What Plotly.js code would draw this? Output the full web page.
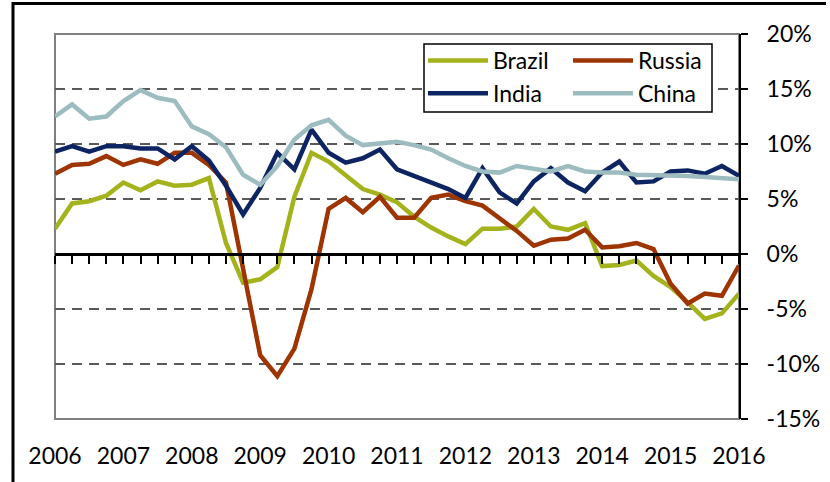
<!DOCTYPE html>
<html>
<head>
<meta charset="utf-8">
<script src="https://cdn.plot.ly/plotly-3.0.1.min.js"></script>
<style>
html,body{margin:0;padding:0;background:#fff;}
#chart{width:830px;height:482px;}
</style>
</head>
<body>
<div id="chart"></div>
<script>
// Quarterly real GDP growth, year on year (%)
const quarters = [];
for (let y = 2006; y <= 2016; y++) {
  for (let q = 1; q <= 4; q++) {
    if (y === 2016 && q > 1) break;
    quarters.push(y + " Q" + q);
  }
}
const yearLabels = ["2006","2007","2008","2009","2010","2011","2012","2013","2014","2015","2016"];
const yTickVals = [-15, -10, -5, 0, 5, 10, 15, 20];
const yTickText = ["-15%", "-10%", "-5%", "0%", "5%", "10%", "15%", "20%"];

const brazil = [2.3, 4.6, 4.8, 5.3, 6.5, 5.8, 6.6, 6.2, 6.3, 6.9,
                1.0, -2.6, -2.3, -1.2, 5.2, 9.2, 8.4, 7.1, 5.9, 5.4,
                4.7, 3.4, 2.4, 1.6, 0.9, 2.3, 2.3, 2.5, 4.1, 2.5,
                2.2, 2.8, -1.1, -1.0, -0.6, -2.0, -3.0, -4.4, -5.9, -5.4,
                -3.6];
const russia = [7.3, 8.1, 8.2, 8.9, 8.1, 8.6, 8.2, 9.2, 9.2, 8.1,
                6.5, -1.5, -9.2, -11.1, -8.6, -3.2, 4.1, 5.1, 3.8, 5.2,
                3.3, 3.3, 5.1, 5.4, 4.8, 4.4, 3.2, 2.1, 0.75, 1.3,
                1.4, 2.2, 0.6, 0.7, 1.0, 0.45, -2.7, -4.5, -3.6, -3.8,
                -1.05];
const india = [9.3, 9.8, 9.3, 9.8, 9.8, 9.6, 9.6, 8.6, 9.8, 8.5,
               6.2, 3.6, 6.0, 9.2, 7.7, 11.3, 9.2, 8.3, 8.7, 9.5,
               7.7, 7.1, 6.6, 5.9, 5.1, 7.8, 5.6, 4.6, 6.6, 7.8,
               6.5, 5.7, 7.4, 8.4, 6.5, 6.6, 7.5, 7.6, 7.3, 8.0,
               7.1];
const china = [12.5, 13.6, 12.3, 12.5, 13.9, 14.9, 14.2, 13.9, 11.6, 10.9,
               9.7, 7.2, 6.3, 8.0, 10.4, 11.7, 12.2, 10.75, 9.9, 10.0,
               10.2, 9.9, 9.5, 8.7, 8.0, 7.5, 7.4, 8.0, 7.8, 7.5,
               8.0, 7.5, 7.4, 7.4, 7.2, 7.2, 7.1, 7.1, 7.0, 6.9,
               6.8];

const names = ["Brazil", "Russia", "India", "China"];
const colors = ["#A4B21C", "#9E3400", "#0D2463", "#9CBCBF"];
const series = [brazil, russia, india, china];
const legendOf = ["legend", "legend2", "legend", "legend2"];

const FONT = "Lato, 'Open Sans', sans-serif";

const traces = series.map((vals, k) => ({
  type: "scatter",
  mode: "lines",
  name: names[k],
  x: quarters,
  y: vals,
  line: {color: colors[k], width: 4.5},
  legend: legendOf[k],
  hoverinfo: "skip"
}));

// helper trace so the quarter-tick axis on the zero line is drawn
traces.push({
  type: "scatter", mode: "lines", x: [0], y: [0],
  xaxis: "x2", yaxis: "y", showlegend: false, hoverinfo: "skip",
  line: {color: "rgba(0,0,0,0)"}
});

const L = 55, R = 739, T = 34, B = 419;
const px = v => (v - L) / (R - L);
const py = v => (B - v) / (B - T);

const layout = {
  width: 830, height: 482,
  margin: {l: L, r: 830 - R, t: T, b: 482 - B},
  paper_bgcolor: "#fff", plot_bgcolor: "#fff",
  font: {family: FONT, size: 23, color: "#000"},
  showlegend: true,
  xaxis: {
    type: "category",
    categoryorder: "array", categoryarray: quarters,
    range: [0, quarters.length - 1],
    tickmode: "array",
    tickvals: yearLabels.map(y => y + " Q1"),
    ticktext: yearLabels,
    ticks: "", showline: false, showgrid: false, zeroline: false,
    ticklabelstandoff: 21,
    tickfont: {family: FONT, size: 23, color: "#000"},
    fixedrange: true
  },
  xaxis2: {
    overlaying: "x", anchor: "free", position: 15 / 35, side: "bottom",
    type: "linear", range: [0, quarters.length - 1],
    tickmode: "linear", tick0: 0, dtick: 1,
    ticks: "outside", ticklen: 8, tickwidth: 2, tickcolor: "#000",
    showline: true, linecolor: "#000", linewidth: 2.5,
    showticklabels: false, showgrid: false, zeroline: false,
    fixedrange: true
  },
  yaxis: {
    side: "right", range: [-15, 20],
    tickmode: "array", tickvals: yTickVals, ticktext: yTickText,
    ticks: "outside", ticklen: 7, tickwidth: 2, tickcolor: "#000",
    showline: true, linecolor: "#000", linewidth: 2,
    showgrid: true, gridcolor: "#595959", gridwidth: 1.6, griddash: "10px,7px",
    zeroline: false,
    ticklabelstandoff: 14,
    tickfont: {family: FONT, size: 23, color: "#000"},
    fixedrange: true
  },
  legend: {
    x: px(423), y: py(39), xanchor: "left", yanchor: "top",
    bgcolor: "rgba(0,0,0,0)", borderwidth: 0,
    font: {family: FONT, size: 23, color: "#000"},
    itemwidth: 60, tracegroupgap: 0, orientation: "v"
  },
  legend2: {
    x: px(568), y: py(39), xanchor: "left", yanchor: "top",
    bgcolor: "rgba(0,0,0,0)", borderwidth: 0,
    font: {family: FONT, size: 23, color: "#000"},
    itemwidth: 60, tracegroupgap: 0, orientation: "v"
  },
  shapes: [
    // plot-area frame
    {type: "rect", xref: "paper", yref: "paper", x0: 0, x1: 1, y0: 0, y1: 1,
     line: {color: "#7F7F7F", width: 2}, layer: "below"},
    // legend box
    {type: "rect", xref: "paper", yref: "paper",
     x0: px(424), x1: px(712), y0: py(112), y1: py(44),
     line: {color: "#000", width: 1.5}, fillcolor: "#fff", layer: "above"},
    // outer chart frame (top and left edges)
    {type: "path", xref: "paper", yref: "paper",
     path: `M ${px(13)} ${py(500)} L ${px(13)} ${py(3.5)} L ${px(826)} ${py(3.5)}`,
     line: {color: "#000", width: 3}}
  ]
};

Plotly.newPlot("chart", traces, layout, {displayModeBar: false, staticPlot: true});
</script>
</body>
</html>
